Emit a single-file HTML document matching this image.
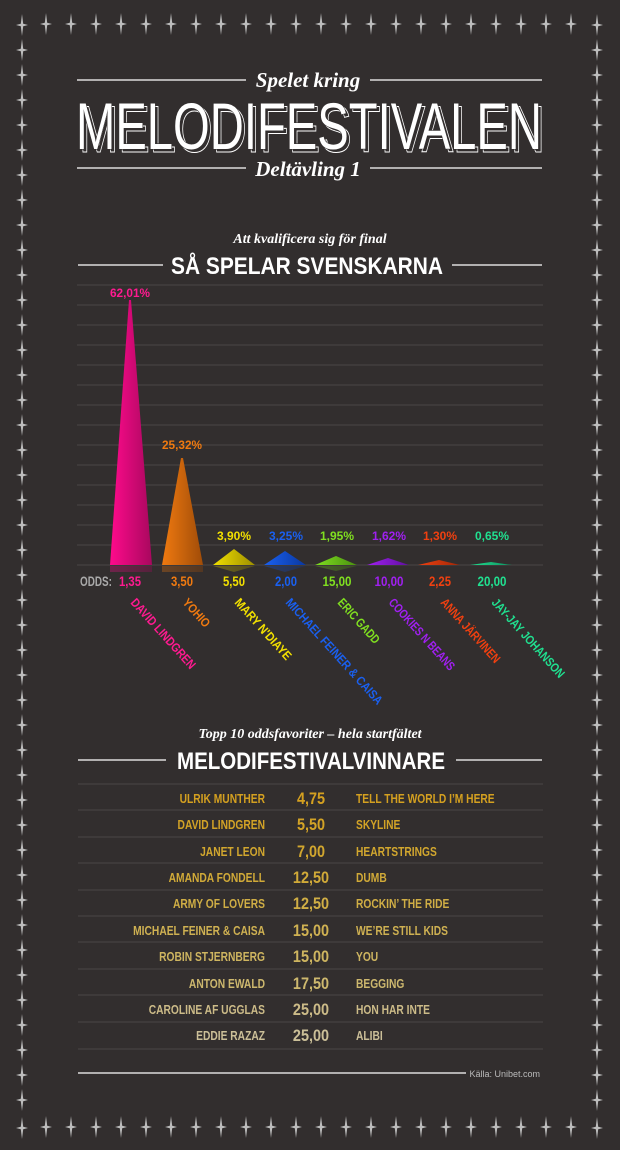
<!DOCTYPE html>
<html><head><meta charset="utf-8"><style>
html,body{margin:0;padding:0;background:#322e2e;}
svg{display:block}
</style></head><body>
<svg width="620" height="1150" viewBox="0 0 620 1150" xmlns="http://www.w3.org/2000/svg" font-family="Liberation Sans, sans-serif">
<defs>
<g id="st"><path d="M0,-11 L1.2,-1.2 L6,0 L1.2,1.2 L0,11 L-1.2,1.2 L-6,0 L-1.2,-1.2Z" fill="#bdbdbd"/></g>
<linearGradient id="g1" x1="0" x2="1"><stop offset="0" stop-color="#ff0a8c"/><stop offset="1" stop-color="#a8085e"/></linearGradient>
<linearGradient id="g2" x1="0" x2="1"><stop offset="0" stop-color="#f07a10"/><stop offset="1" stop-color="#a04c08"/></linearGradient>
<linearGradient id="g3" x1="0" x2="1"><stop offset="0" stop-color="#f2e000"/><stop offset="1" stop-color="#9c8e00"/></linearGradient>
<linearGradient id="g4" x1="0" x2="1"><stop offset="0" stop-color="#1a60f0"/><stop offset="1" stop-color="#0a38a0"/></linearGradient>
<linearGradient id="g5" x1="0" x2="1"><stop offset="0" stop-color="#80e020"/><stop offset="1" stop-color="#4a9010"/></linearGradient>
<linearGradient id="g6" x1="0" x2="1"><stop offset="0" stop-color="#a020f0"/><stop offset="1" stop-color="#6010a0"/></linearGradient>
<linearGradient id="g7" x1="0" x2="1"><stop offset="0" stop-color="#f04010"/><stop offset="1" stop-color="#a02808"/></linearGradient>
<linearGradient id="g8" x1="0" x2="1"><stop offset="0" stop-color="#20e090"/><stop offset="1" stop-color="#109060"/></linearGradient>
</defs>
<g id="stars">
<g id="row">
<use href="#st" x="22" y="25"/><use href="#st" x="46" y="24"/><use href="#st" x="71" y="24"/><use href="#st" x="96" y="24"/><use href="#st" x="121" y="24"/><use href="#st" x="146" y="24"/><use href="#st" x="171" y="24"/><use href="#st" x="196" y="24"/><use href="#st" x="221" y="24"/><use href="#st" x="246" y="24"/><use href="#st" x="271" y="24"/><use href="#st" x="296" y="24"/><use href="#st" x="321" y="24"/><use href="#st" x="346" y="24"/><use href="#st" x="371" y="24"/><use href="#st" x="396" y="24"/><use href="#st" x="421" y="24"/><use href="#st" x="446" y="24"/><use href="#st" x="471" y="24"/><use href="#st" x="496" y="24"/><use href="#st" x="521" y="24"/><use href="#st" x="546" y="24"/><use href="#st" x="571" y="24"/><use href="#st" x="597" y="25"/>
</g>
<use href="#row" y="1103"/>
</g>
<g id="col">
<use href="#st" x="22" y="50"/><use href="#st" x="22" y="75"/><use href="#st" x="22" y="100"/><use href="#st" x="22" y="125"/><use href="#st" x="22" y="150"/><use href="#st" x="22" y="175"/><use href="#st" x="22" y="200"/><use href="#st" x="22" y="225"/><use href="#st" x="22" y="250"/><use href="#st" x="22" y="275"/><use href="#st" x="22" y="300"/><use href="#st" x="22" y="325"/><use href="#st" x="22" y="350"/><use href="#st" x="22" y="375"/><use href="#st" x="22" y="400"/><use href="#st" x="22" y="425"/><use href="#st" x="22" y="450"/><use href="#st" x="22" y="475"/><use href="#st" x="22" y="500"/><use href="#st" x="22" y="525"/><use href="#st" x="22" y="550"/><use href="#st" x="22" y="575"/><use href="#st" x="22" y="600"/><use href="#st" x="22" y="625"/><use href="#st" x="22" y="650"/><use href="#st" x="22" y="675"/><use href="#st" x="22" y="700"/><use href="#st" x="22" y="725"/><use href="#st" x="22" y="750"/><use href="#st" x="22" y="775"/><use href="#st" x="22" y="800"/><use href="#st" x="22" y="825"/><use href="#st" x="22" y="850"/><use href="#st" x="22" y="875"/><use href="#st" x="22" y="900"/><use href="#st" x="22" y="925"/><use href="#st" x="22" y="950"/><use href="#st" x="22" y="975"/><use href="#st" x="22" y="1000"/><use href="#st" x="22" y="1025"/><use href="#st" x="22" y="1050"/><use href="#st" x="22" y="1075"/><use href="#st" x="22" y="1100"/>
</g>
<use href="#col" x="575"/>

<g stroke="#fff" stroke-width="1.3">
<line x1="77" y1="80" x2="246" y2="80"/><line x1="370" y1="80" x2="542" y2="80"/>
<line x1="77" y1="168" x2="246" y2="168"/><line x1="370" y1="168" x2="542" y2="168"/>
<line x1="78" y1="265" x2="163" y2="265"/><line x1="452" y1="265" x2="542" y2="265"/>
<line x1="78" y1="760" x2="166" y2="760"/><line x1="456" y1="760" x2="542" y2="760"/>
<line x1="78" y1="1073" x2="466" y2="1073"/>
</g>
<g fill="#fff" font-family="Liberation Serif, serif" font-style="italic" font-weight="bold" text-anchor="middle">
<text x="308" y="87" font-size="21">Spelet kring</text>
<text x="308" y="176" font-size="21">Deltävling 1</text>
<text x="310" y="243" font-size="14">Att kvalificera sig för final</text>
<text x="310" y="738" font-size="14">Topp 10 oddsfavoriter – hela startfältet</text>
</g>
<text x="312" y="152" font-size="66" fill="none" stroke="#fff" stroke-width="1" textLength="466" lengthAdjust="spacingAndGlyphs" text-anchor="middle">MELODIFESTIVALEN</text>
<text x="309" y="149" font-size="66" fill="#fff" stroke="#322e2e" stroke-width="1.2" paint-order="stroke" textLength="466" lengthAdjust="spacingAndGlyphs" text-anchor="middle">MELODIFESTIVALEN</text>
<text x="307" y="274" font-size="24" font-weight="bold" fill="#fff" textLength="272" lengthAdjust="spacingAndGlyphs" text-anchor="middle">SÅ SPELAR SVENSKARNA</text>
<text x="311" y="769" font-size="24" font-weight="bold" fill="#fff" textLength="268" lengthAdjust="spacingAndGlyphs" text-anchor="middle">MELODIFESTIVALVINNARE</text>

<g stroke="#4a4646" stroke-width="1">
<line x1="77" y1="285" x2="543" y2="285"/><line x1="77" y1="305" x2="543" y2="305"/><line x1="77" y1="325" x2="543" y2="325"/><line x1="77" y1="345" x2="543" y2="345"/><line x1="77" y1="365" x2="543" y2="365"/><line x1="77" y1="385" x2="543" y2="385"/><line x1="77" y1="405" x2="543" y2="405"/><line x1="77" y1="425" x2="543" y2="425"/><line x1="77" y1="445" x2="543" y2="445"/><line x1="77" y1="465" x2="543" y2="465"/><line x1="77" y1="485" x2="543" y2="485"/><line x1="77" y1="505" x2="543" y2="505"/><line x1="77" y1="525" x2="543" y2="525"/><line x1="77" y1="545" x2="543" y2="545"/><line x1="77" y1="565" x2="543" y2="565"/>
</g>
<path d="M110,565 L129,300 L131,300 L152,565Z" fill="url(#g1)"/>
<path d="M162,565 L181,458 L183,458 L203,565Z" fill="url(#g2)"/>
<path d="M213,565 L234,549 L255,565Z" fill="url(#g3)"/>
<path d="M264,565 L285,551 L306,565Z" fill="url(#g4)"/>
<path d="M315,565 L336,556 L357,565Z" fill="url(#g5)"/>
<path d="M367,565 L388,558 L409,565Z" fill="url(#g6)"/>
<path d="M418,565 L439,560 L460,565Z" fill="url(#g7)"/>
<path d="M470,565 L491,562 L512,565Z" fill="url(#g8)"/>
<g opacity="0.3">
<rect x="110" y="566" width="42" height="6" fill="url(#g1)"/><rect x="162" y="566" width="41" height="6" fill="url(#g2)"/>
<path d="M213,566 L255,566 L234,572Z" fill="url(#g3)"/><path d="M264,566 L306,566 L285,572Z" fill="url(#g4)"/><path d="M315,566 L357,566 L336,571Z" fill="url(#g5)"/>
</g>
<g font-size="12" font-weight="bold" text-anchor="middle">
<text x="130" y="297" fill="#ff1a90" textLength="40" lengthAdjust="spacingAndGlyphs">62,01%</text>
<text x="182" y="449" fill="#f07a10" textLength="40" lengthAdjust="spacingAndGlyphs">25,32%</text>
<text x="234" y="540" fill="#f2e000" textLength="34" lengthAdjust="spacingAndGlyphs">3,90%</text>
<text x="286" y="540" fill="#1a60f0" textLength="34" lengthAdjust="spacingAndGlyphs">3,25%</text>
<text x="337" y="540" fill="#80e020" textLength="34" lengthAdjust="spacingAndGlyphs">1,95%</text>
<text x="389" y="540" fill="#a020f0" textLength="34" lengthAdjust="spacingAndGlyphs">1,62%</text>
<text x="440" y="540" fill="#f04010" textLength="34" lengthAdjust="spacingAndGlyphs">1,30%</text>
<text x="492" y="540" fill="#20e090" textLength="34" lengthAdjust="spacingAndGlyphs">0,65%</text>
</g>
<g font-size="14" font-weight="bold" text-anchor="middle">
<text x="96" y="586" fill="#aaa" textLength="32" lengthAdjust="spacingAndGlyphs">ODDS:</text>
<text x="130" y="586" fill="#ff1a90" textLength="22" lengthAdjust="spacingAndGlyphs">1,35</text>
<text x="182" y="586" fill="#f07a10" textLength="22" lengthAdjust="spacingAndGlyphs">3,50</text>
<text x="234" y="586" fill="#f2e000" textLength="22" lengthAdjust="spacingAndGlyphs">5,50</text>
<text x="286" y="586" fill="#1a60f0" textLength="22" lengthAdjust="spacingAndGlyphs">2,00</text>
<text x="337" y="586" fill="#80e020" textLength="29" lengthAdjust="spacingAndGlyphs">15,00</text>
<text x="389" y="586" fill="#a020f0" textLength="29" lengthAdjust="spacingAndGlyphs">10,00</text>
<text x="440" y="586" fill="#f04010" textLength="22" lengthAdjust="spacingAndGlyphs">2,25</text>
<text x="492" y="586" fill="#20e090" textLength="29" lengthAdjust="spacingAndGlyphs">20,00</text>
</g>
<g font-size="12.5" font-weight="bold" lengthAdjust="spacingAndGlyphs">
<text transform="translate(130,603) rotate(48)" fill="#ff1a90" textLength="90" lengthAdjust="spacingAndGlyphs">DAVID LINDGREN</text>
<text transform="translate(182,603) rotate(48)" fill="#f07a10" textLength="34" lengthAdjust="spacingAndGlyphs">YOHIO</text>
<text transform="translate(234,603) rotate(48)" fill="#f2e000" textLength="78" lengthAdjust="spacingAndGlyphs">MARY N'DIAYE</text>
<text transform="translate(285,603) rotate(48)" fill="#1a60f0" textLength="138" lengthAdjust="spacingAndGlyphs">MICHAEL FEINER &amp; CAISA</text>
<text transform="translate(337,603) rotate(48)" fill="#80e020" textLength="56" lengthAdjust="spacingAndGlyphs">ERIC GADD</text>
<text transform="translate(388,603) rotate(48)" fill="#a020f0" textLength="92" lengthAdjust="spacingAndGlyphs">COOKIES N BEANS</text>
<text transform="translate(440,603) rotate(48)" fill="#f04010" textLength="82" lengthAdjust="spacingAndGlyphs">ANNA JÄRVINEN</text>
<text transform="translate(491,603) rotate(48)" fill="#20e090" textLength="102" lengthAdjust="spacingAndGlyphs">JAY-JAY JOHANSON</text>
</g>

<g stroke="#4a4646" stroke-width="1">
<line x1="78" y1="784" x2="543" y2="784"/><line x1="78" y1="810" x2="543" y2="810"/><line x1="78" y1="837" x2="543" y2="837"/><line x1="78" y1="863" x2="543" y2="863"/><line x1="78" y1="890" x2="543" y2="890"/><line x1="78" y1="916" x2="543" y2="916"/><line x1="78" y1="942" x2="543" y2="942"/><line x1="78" y1="969" x2="543" y2="969"/><line x1="78" y1="995" x2="543" y2="995"/><line x1="78" y1="1022" x2="543" y2="1022"/><line x1="78" y1="1049" x2="543" y2="1049"/>
</g>
<g font-weight="bold">
<g font-size="12.5" text-anchor="end" transform="translate(265,0) scale(0.82,1) translate(-265,0)">
<text x="265" y="803" fill="#d4a020">ULRIK MUNTHER</text><text x="265" y="829" fill="#d3a326">DAVID LINDGREN</text><text x="265" y="856" fill="#d2a72e">JANET LEON</text><text x="265" y="882" fill="#d1aa38">AMANDA FONDELL</text><text x="265" y="908" fill="#d0ae45">ARMY OF LOVERS</text><text x="265" y="935" fill="#cfb152">MICHAEL FEINER &amp; CAISA</text><text x="265" y="961" fill="#ceb560">ROBIN STJERNBERG</text><text x="265" y="988" fill="#cdb86e">ANTON EWALD</text><text x="265" y="1014" fill="#ccbb88">CAROLINE AF UGGLAS</text><text x="265" y="1040" fill="#cbbf98">EDDIE RAZAZ</text>
</g>
<g font-size="17" text-anchor="middle" transform="translate(311,0) scale(0.85,1) translate(-311,0)">
<text x="311" y="804" fill="#d4a020">4,75</text><text x="311" y="830" fill="#d3a326">5,50</text><text x="311" y="857" fill="#d2a72e">7,00</text><text x="311" y="883" fill="#d1aa38">12,50</text><text x="311" y="909" fill="#d0ae45">12,50</text><text x="311" y="936" fill="#cfb152">15,00</text><text x="311" y="962" fill="#ceb560">15,00</text><text x="311" y="989" fill="#cdb86e">17,50</text><text x="311" y="1015" fill="#ccbb88">25,00</text><text x="311" y="1041" fill="#cbbf98">25,00</text>
</g>
<g font-size="12.5" transform="translate(356,0) scale(0.82,1) translate(-356,0)">
<text x="356" y="803" fill="#d4a020">TELL THE WORLD I’M HERE</text><text x="356" y="829" fill="#d3a326">SKYLINE</text><text x="356" y="856" fill="#d2a72e">HEARTSTRINGS</text><text x="356" y="882" fill="#d1aa38">DUMB</text><text x="356" y="908" fill="#d0ae45">ROCKIN’ THE RIDE</text><text x="356" y="935" fill="#cfb152">WE’RE STILL KIDS</text><text x="356" y="961" fill="#ceb560">YOU</text><text x="356" y="988" fill="#cdb86e">BEGGING</text><text x="356" y="1014" fill="#ccbb88">HON HAR INTE</text><text x="356" y="1040" fill="#cbbf98">ALIBI</text>
</g>
</g>
<text x="540" y="1077" font-size="9" fill="#bbb" text-anchor="end">Källa: Unibet.com</text>
</svg>
</body></html>
